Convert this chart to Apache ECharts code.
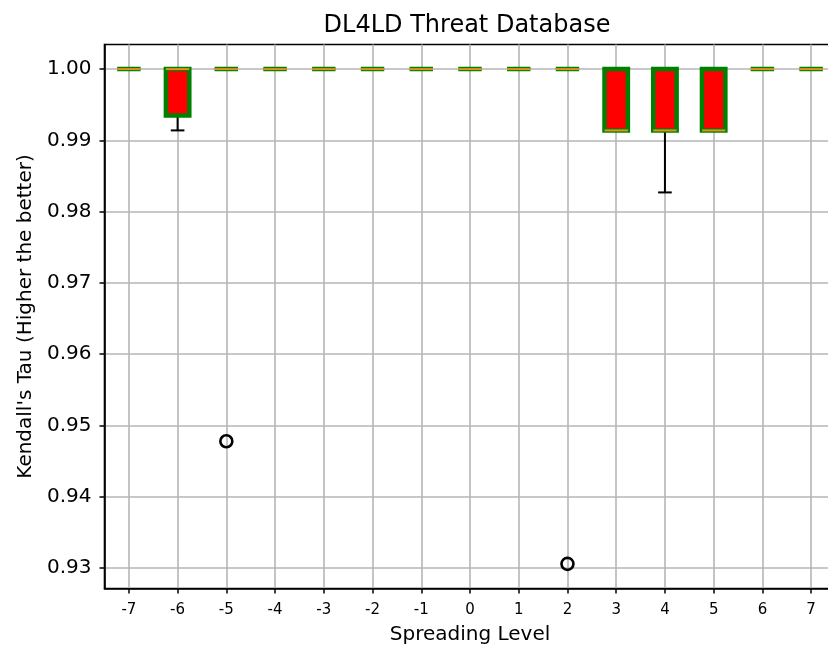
<!DOCTYPE html>
<html>
<head>
<meta charset="utf-8">
<title>DL4LD Threat Database</title>
<script src="https://cdn.jsdelivr.net/npm/echarts@6/dist/echarts.min.js"></script>
<style>
  html, body { margin: 0; padding: 0; background: #ffffff; }
  #chart { width: 828px; height: 645px; }
</style>
</head>
<body>
<div id="chart"></div>
<script>
// Spreading levels on the x axis
const levels = [-7, -6, -5, -4, -3, -2, -1, 0, 1, 2, 3, 4, 5, 6, 7];

// Box statistics of Kendall's tau per spreading level
const q1Values     = [1.0, 0.9935, 1.0, 1.0, 1.0, 1.0, 1.0, 1.0, 1.0, 1.0, 0.9914, 0.9914, 0.9914, 1.0, 1.0];
const medianValues = [1.0, 1.0,    1.0, 1.0, 1.0, 1.0, 1.0, 1.0, 1.0, 1.0, 0.9914, 0.9914, 0.9914, 1.0, 1.0];
const q3Values     = [1.0, 1.0,    1.0, 1.0, 1.0, 1.0, 1.0, 1.0, 1.0, 1.0, 1.0,    1.0,    1.0,    1.0, 1.0];
const whiskerLow   = [1.0, 0.9914, 1.0, 1.0, 1.0, 1.0, 1.0, 1.0, 1.0, 1.0, 0.9914, 0.9827, 0.9914, 1.0, 1.0];
const whiskerHigh  = [1.0, 1.0,    1.0, 1.0, 1.0, 1.0, 1.0, 1.0, 1.0, 1.0, 1.0,    1.0,    1.0,    1.0, 1.0];

// Points beyond the whiskers
const outlierLevels = [-5, 2];
const outlierValues = [0.9478, 0.9306];

// Tick labels
const yTicks = [0.93, 0.94, 0.95, 0.96, 0.97, 0.98, 0.99, 1.00];
const xTicks = levels;

const FONT = 'DejaVu Sans';

const boxData = levels.map((lv, i) => [lv, q1Values[i], medianValues[i], q3Values[i], whiskerLow[i], whiskerHigh[i]]);
const outlierData = outlierLevels.map((lv, i) => [lv, outlierValues[i]]);

// Whiskers and caps first, then the box, then the median on top
function renderBox(params, api) {
  const x = api.value(0);
  const pQ1 = api.coord([x, api.value(1)]);
  const pMed = api.coord([x, api.value(2)]);
  const pQ3 = api.coord([x, api.value(3)]);
  const pLo = api.coord([x, api.value(4)]);
  const pHi = api.coord([x, api.value(5)]);
  const half = api.size([0.48, 0])[0] / 2;
  const capHalf = api.size([0.28, 0])[0] / 2;
  const cx = pMed[0];
  const black = { stroke: '#000000', lineWidth: 2 };
  return {
    type: 'group',
    children: [
      { type: 'line', shape: { x1: cx, y1: pQ1[1], x2: cx, y2: pLo[1] }, style: black },
      { type: 'line', shape: { x1: cx, y1: pQ3[1], x2: cx, y2: pHi[1] }, style: black },
      { type: 'line', shape: { x1: cx - capHalf, y1: pLo[1], x2: cx + capHalf, y2: pLo[1] }, style: black },
      { type: 'line', shape: { x1: cx - capHalf, y1: pHi[1], x2: cx + capHalf, y2: pHi[1] }, style: black },
      {
        type: 'rect',
        shape: { x: cx - half, y: pQ3[1], width: half * 2, height: pQ1[1] - pQ3[1] },
        style: { fill: '#ff0000', stroke: '#008000', lineWidth: 4.5 }
      },
      {
        type: 'line',
        shape: { x1: cx - half, y1: pMed[1], x2: cx + half, y2: pMed[1] },
        style: { stroke: '#e3911c', lineWidth: 2 }
      }
    ]
  };
}

const chart = echarts.init(document.getElementById('chart'), null, { renderer: 'canvas' });

chart.setOption({
  animation: false,
  backgroundColor: '#ffffff',
  title: {
    text: 'DL4LD Threat Database',
    left: 462,
    top: 9,
    textAlign: 'center',
    textStyle: { fontFamily: FONT, fontSize: 24, fontWeight: 'normal', color: '#000000' }
  },
  grid: {
    left: 104.5,
    top: 44.5,
    width: 731,
    height: 544,
    outerBoundsMode: 'none',
    containLabel: false,
    show: true,
    borderColor: '#000000',
    borderWidth: 1.6,
    backgroundColor: 'transparent'
  },
  xAxis: {
    type: 'value',
    min: -7.5,
    max: 7.5,
    name: 'Spreading Level',
    nameLocation: 'middle',
    nameGap: 36,
    nameTextStyle: { fontFamily: FONT, fontSize: 20, color: '#000000' },
    axisLine: { show: true, onZero: false, lineStyle: { color: '#000000', width: 1.6 } },
    axisTick: { show: true, customValues: xTicks, length: 5, lineStyle: { color: '#000000', width: 1.5 } },
    axisLabel: {
      customValues: xTicks,
      margin: 14,
      fontFamily: FONT,
      fontSize: 15,
      color: '#000000',
      formatter: v => String(v)
    },
    splitLine: { show: true, lineStyle: { color: '#b6b6b6', width: 1.6 } }
  },
  yAxis: {
    type: 'value',
    min: 0.92714,
    max: 1.00345,
    name: "Kendall's Tau (Higher the better)",
    nameLocation: 'middle',
    nameGap: 66,
    nameTextStyle: { fontFamily: FONT, fontSize: 20, color: '#000000' },
    axisLine: { show: true, onZero: false, lineStyle: { color: '#000000', width: 1.6 } },
    axisTick: { show: true, customValues: yTicks, length: 5, lineStyle: { color: '#000000', width: 1.5 } },
    axisLabel: {
      customValues: yTicks,
      margin: 13,
      fontFamily: FONT,
      fontSize: 20,
      color: '#000000',
      formatter: v => Number(v).toFixed(2)
    },
    splitLine: { show: true, lineStyle: { color: '#b6b6b6', width: 1.6 } }
  },
  series: [
    {
      type: 'custom',
      name: 'box',
      renderItem: renderBox,
      encode: { x: 0, y: [1, 2, 3, 4, 5] },
      data: boxData,
      clip: false,
      z: 3
    },
    {
      type: 'scatter',
      name: 'outliers',
      data: outlierData,
      symbol: 'circle',
      symbolSize: 12,
      itemStyle: { color: 'rgba(0,0,0,0)', borderColor: '#000000', borderWidth: 2.6, opacity: 1 },
      z: 4
    }
  ]
});
</script>
</body>
</html>
